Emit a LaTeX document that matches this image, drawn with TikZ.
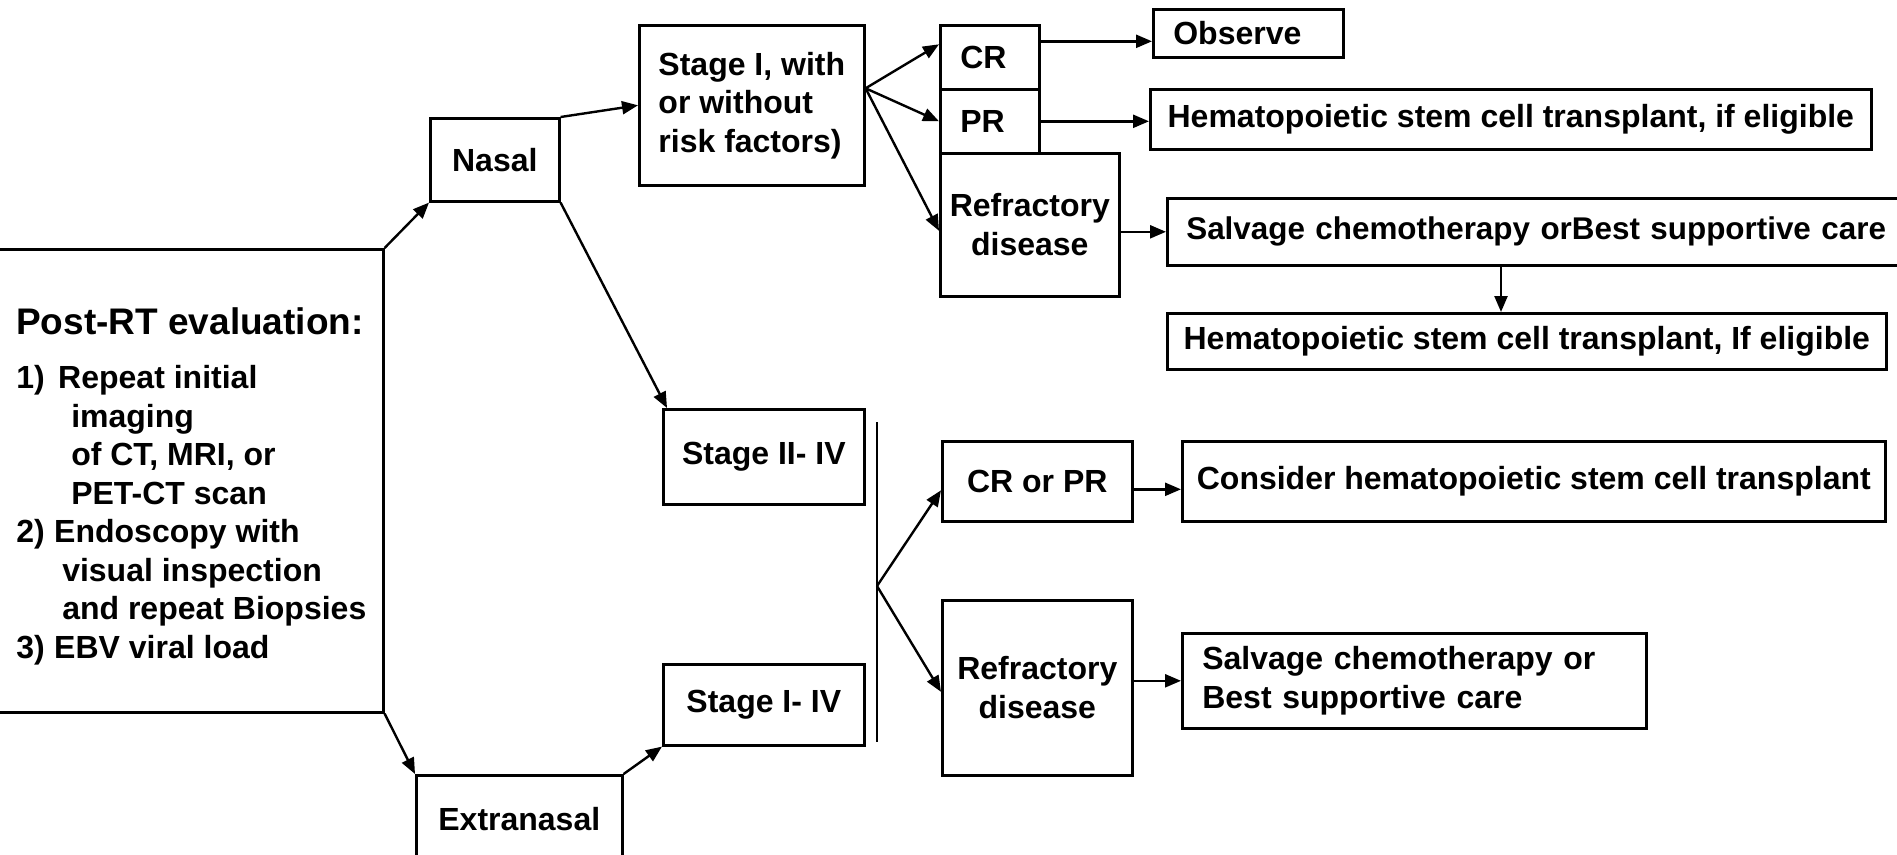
\documentclass[tikz,border=0pt]{standalone}
\usepackage{fontspec}
\setmainfont{Liberation Sans}
\usetikzlibrary{arrows.meta}

\begin{document}
\begin{tikzpicture}[x=1pt,y=-1pt,
    box/.style={draw,line width=2.6pt,anchor=north west,align=center,inner sep=0pt,
      font=\bfseries\fontsize{32}{38.5}\selectfont},
    arr/.style={line width=2.4pt,-{Triangle[length=16pt,width=13pt]}}]
  \useasboundingbox (0,0) rectangle (1897,854);
  \clip (0,0) rectangle (1897,854);
  % evaluation box, its left side runs off the page
  \node[box,align=left,minimum width=392pt,minimum height=463pt] (post) at (-10,248)
    {\hspace*{8pt}{\fontsize{37}{44}\selectfont\rule{0pt}{38pt}Post-RT evaluation:}\\[16pt]
     \hspace*{8pt}\makebox[42pt][l]{1)}Repeat initial\\
     \hspace*{63pt}imaging\\
     \hspace*{63pt}of CT, MRI, or\\
     \hspace*{63pt}PET-CT scan\\
     \hspace*{8pt}\makebox[38pt][l]{2)}Endoscopy with\\
     \hspace*{54pt}visual inspection\\
     \hspace*{54pt}and repeat Biopsies\\
     \hspace*{8pt}\makebox[38pt][l]{3)}EBV viral load};
  \node[box,minimum width=129pt,minimum height=83pt] (nasal) at (429,117) {Nasal};
  \node[box,minimum width=206pt,minimum height=88pt] (extra) at (415,774) {Extranasal};
  \node[box,align=left,minimum width=225pt,minimum height=160pt] (stage1) at (638,24)
    {Stage I, with\\or without\\risk factors)};
  \node[box,minimum width=201pt,minimum height=95pt] (stage2) at (662,408) {Stage II- IV};
  \node[box,minimum width=201pt,minimum height=81pt] (stage3) at (662,663) {Stage I- IV};
  % nasal stage I
  \node[box,align=left,text width=59pt,inner xsep=20pt,minimum height=64pt] (cr) at (939,24) {CR};
  \node[box,align=left,text width=59pt,inner xsep=20pt,minimum height=64pt] (pr) at (939,88) {PR};
  \node[box,minimum width=179pt,minimum height=143pt] (refr1) at (939,152) {Refractory\\disease};
  \node[box,align=left,text width=150pt,inner xsep=20pt,minimum height=48pt] (observe) at (1152,8) {Observe};
  \node[box,minimum width=721pt,minimum height=60pt] (hsct1) at (1149,88)
    {Hematopoietic stem cell transplant, if eligible};
  \node[box,align=left,text width=754pt,inner xsep=19pt,minimum height=67pt,
    font=\bfseries\fontsize{31.4}{38.5}\selectfont] (salv1) at (1166,197)
    {Salvage chemotherapy orBest supportive care};
  \node[box,minimum width=719pt,minimum height=56pt] (hsct2) at (1166,312)
    {Hematopoietic stem cell transplant, If eligible};
  % stage II-IV and extranasal
  \node[box,minimum width=190pt,minimum height=80pt] (crpr) at (941,440) {CR or PR};
  \node[box,minimum width=190pt,minimum height=175pt] (refr2) at (941,599) {Refractory\\disease};
  \node[box,minimum width=703pt,minimum height=80pt] (consider) at (1181,440)
    {Consider hematopoietic stem cell transplant};
  \node[box,align=left,text width=424pt,inner xsep=20pt,minimum height=95pt] (salv2) at (1181,632)
    {Salvage chemotherapy or\\Best supportive care};

  \coordinate (bartop) at (877,422);
  \coordinate (barbot) at (877,742);
  \coordinate (fork) at (877,586);
  \coordinate (s1out) at ([yshift=17pt]stage1.east);

  \draw[arr] (post.north east) -- (nasal.south west);
  \draw[arr] (post.south east) -- (extra.north west);
  \draw[arr] (nasal.north east) -- (stage1.west);
  \draw[arr] (nasal.south east) -- ([xshift=5pt]stage2.north west);
  \draw[arr] (extra.north east) -- (stage3.south west);
  \draw[arr] (s1out) -- ([yshift=13pt]cr.west);
  \draw[arr] (s1out) -- (pr.west);
  \draw[arr] (s1out) -- ([yshift=-6pt]refr1.west);
  \draw[arr] ([yshift=16pt]cr.east) -- ([yshift=16pt]cr.east -| observe.west);
  \draw[arr] (pr.east) -- (pr.east -| hsct1.west);
  \draw[arr] (salv1.west -| refr1.east) -- (salv1.west);
  \draw[arr] ([xshift=335pt]salv1.south west) -- ([xshift=335pt]hsct2.north west);
  \draw[line width=2.4pt] (bartop) -- (barbot);
  \draw[arr] (fork) -- ([yshift=-9pt]crpr.west);
  \draw[arr] (fork) -- ([yshift=-4pt]refr2.west);
  \draw[arr] ([yshift=-8pt]crpr.east) -- ([yshift=-8pt]crpr.east -| consider.west);
  \draw[arr] (salv2.west -| refr2.east) -- (salv2.west);
\end{tikzpicture}
\end{document}
